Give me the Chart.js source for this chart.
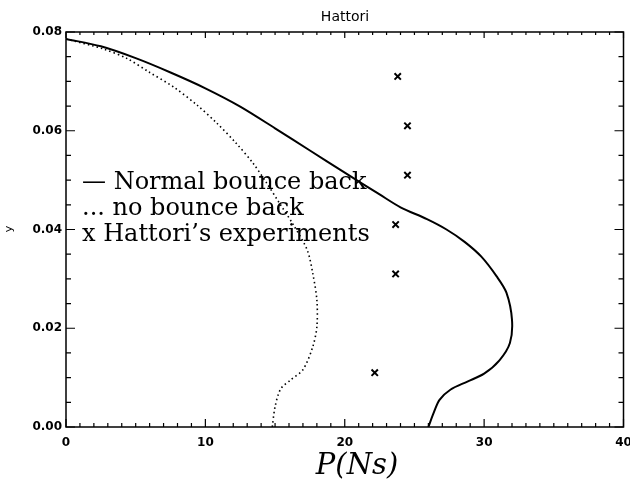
<!DOCTYPE html>
<html>
<head>
<meta charset="utf-8">
<script src="https://cdn.jsdelivr.net/npm/chart.js@4.4.1/dist/chart.umd.min.js"></script>
<style>
  html, body { margin: 0; padding: 0; background: #fff; }
  #wrap { width: 630px; height: 486px; }
</style>
</head>
<body>
<div id="wrap"><canvas id="hattoriChart" width="630" height="486"></canvas></div>
<script>
// Normal bounce back (solid)
var normalP = [0, 2.5, 5, 7.5, 10, 12.5, 15, 17.5, 20, 22.5, 24.0, 25.9, 27.3, 28.6, 29.8, 30.9, 31.6, 32.0, 31.85, 31.1, 30.0, 28.8, 27.6, 26.8, 26.4, 26.0];
var normalY = [0.0786, 0.0771, 0.0747, 0.0718, 0.0686, 0.0649, 0.0605, 0.0560, 0.0515, 0.0471, 0.0445, 0.0421, 0.0400, 0.0375, 0.0345, 0.0305, 0.0272, 0.0217, 0.0170, 0.0135, 0.0108, 0.0092, 0.0076, 0.0055, 0.0030, 0.0];

// no bounce back (dotted)
var noBounceP = [0, 2.65, 4.4, 5.95, 7.7, 9.4, 10.8, 12.2, 13.4, 14.4, 15.3, 16.3, 17.3, 17.7, 18.0, 18.0, 17.7, 17.0, 16.1, 15.4, 15.0, 14.8];
var noBounceY = [0.0786, 0.0766, 0.0746, 0.0719, 0.0689, 0.0652, 0.0616, 0.0575, 0.0535, 0.0494, 0.0454, 0.0410, 0.0359, 0.0312, 0.0257, 0.0203, 0.0162, 0.0116, 0.0095, 0.0077, 0.0041, 0.0];

// Hattori's experiments (x markers)
var expP = [23.8, 24.5, 24.5, 23.65, 23.65, 22.15];
var expY = [0.0710, 0.0610, 0.0510, 0.0410, 0.0310, 0.0110];

var xTicks = [0, 10, 20, 30, 40];
var yTicks = [0.00, 0.02, 0.04, 0.06, 0.08];

var legendLines = ['\u2014 Normal bounce back', '... no bounce back', 'x Hattori\u2019s experiments'];

function toPoints(xs, ys) {
    var pts = [];
    for (var i = 0; i < xs.length; i++) pts.push({ x: xs[i], y: ys[i] });
    return pts;
}

// Box, inward ticks, title, axis labels and the text legend
var decorPlugin = {
    id: 'decor',
    afterDraw: function (chart) {
        var ctx = chart.ctx;
        var a = chart.chartArea;
        var sx = chart.scales.x, sy = chart.scales.y;
        ctx.save();
        ctx.strokeStyle = '#000';
        ctx.lineWidth = 1.5;
        ctx.strokeRect(a.left, a.top, a.right - a.left, a.bottom - a.top);

        ctx.lineWidth = 1.2;
        ctx.beginPath();
        for (var v = 0; v <= 40; v += 1) {
            var px = sx.getPixelForValue(v);
            var major = v % 10 === 0;
            ctx.moveTo(px, a.bottom); ctx.lineTo(px, a.bottom - (major ? 8 : 4));
            ctx.moveTo(px, a.top); ctx.lineTo(px, a.top + (major ? 6 : 3));
        }
        for (var k = 0; k <= 16; k++) {
            var yv = k * 0.005;
            var py = sy.getPixelForValue(yv);
            var maj = k % 4 === 0;
            ctx.moveTo(a.left, py); ctx.lineTo(a.left + (maj ? 9 : 5), py);
            ctx.moveTo(a.right, py); ctx.lineTo(a.right - (maj ? 9 : 5), py);
        }
        ctx.stroke();

        ctx.fillStyle = '#000';
        ctx.textAlign = 'center';
        ctx.textBaseline = 'alphabetic';
        ctx.font = '14px "DejaVu Sans", sans-serif';
        ctx.fillText('Hattori', 345, 21);

        ctx.font = 'italic 29px "DejaVu Serif", serif';
        ctx.fillText('P(Ns)', 357, 474);

        ctx.save();
        ctx.translate(12, 229);
        ctx.rotate(-Math.PI / 2);
        ctx.font = '11px "DejaVu Sans", sans-serif';
        ctx.fillText('y', 0, 0);
        ctx.restore();

        ctx.textAlign = 'left';
        ctx.font = '24px "DejaVu Serif", serif';
        var base = [189, 215, 241];
        for (var i = 0; i < legendLines.length; i++) {
            ctx.fillText(legendLines[i], 82, base[i]);
        }
        ctx.restore();
    }
};

var ctx = document.getElementById('hattoriChart').getContext('2d');
var chart = new Chart(ctx, {
    type: 'scatter',
    data: {
        datasets: [{
            label: 'Normal bounce back',
            data: toPoints(normalP, normalY),
            showLine: true,
            borderColor: '#000',
            borderWidth: 2,
            pointRadius: 0,
            tension: 0.3,
            fill: false
        }, {
            label: 'no bounce back',
            data: toPoints(noBounceP, noBounceY),
            showLine: true,
            borderColor: '#000',
            borderWidth: 1.6,
            borderDash: [1.5, 3],
            pointRadius: 0,
            tension: 0.3,
            fill: false
        }, {
            label: "Hattori's experiments",
            data: toPoints(expP, expY),
            showLine: false,
            pointStyle: 'crossRot',
            pointRadius: 4.5,
            borderColor: '#000',
            borderWidth: 2
        }]
    },
    options: {
        responsive: false,
        animation: false,
        layout: { padding: { top: 32, right: 5, left: 0, bottom: 0 } },
        plugins: {
            legend: { display: false },
            title: { display: false },
            tooltip: { enabled: false }
        },
        scales: {
            x: {
                type: 'linear',
                min: 0,
                max: 40,
                afterBuildTicks: function (scale) {
                    scale.ticks = xTicks.map(function (v) { return { value: v }; });
                },
                afterFit: function (scale) {
                    scale.height = 59;
                    scale.paddingLeft = 0;
                    scale.paddingRight = 0;
                },
                grid: { display: false, drawTicks: false },
                border: { display: false },
                ticks: {
                    padding: 9,
                    color: '#000',
                    maxRotation: 0,
                    font: { family: '"DejaVu Sans", sans-serif', size: 12, weight: 'bold' }
                }
            },
            y: {
                type: 'linear',
                min: 0,
                max: 0.08,
                afterBuildTicks: function (scale) {
                    scale.ticks = yTicks.map(function (v) { return { value: v }; });
                },
                afterFit: function (scale) {
                    scale.width = 66;
                    scale.paddingTop = 0;
                    scale.paddingBottom = 0;
                },
                grid: { display: false, drawTicks: false },
                border: { display: false },
                ticks: {
                    padding: 4,
                    color: '#000',
                    font: { family: '"DejaVu Sans", sans-serif', size: 12, weight: 'bold' },
                    callback: function (v) { return Number(v).toFixed(2); }
                }
            }
        }
    },
    plugins: [decorPlugin]
});
</script>
</body>
</html>
